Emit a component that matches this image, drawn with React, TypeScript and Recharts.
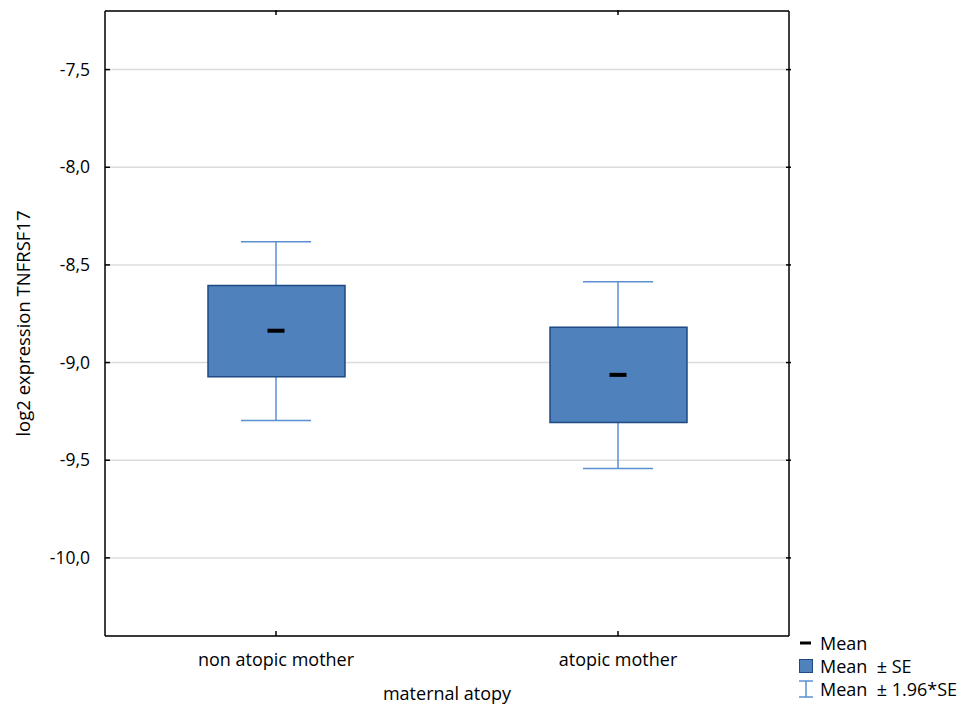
import { ComposedChart, Bar, Scatter, XAxis, YAxis, CartesianGrid, Legend } from 'recharts';

const categories = ['non atopic mother', 'atopic mother'];
const means = [-8.837, -9.063];
const seLow = [-9.073, -9.307];
const seHigh = [-8.606, -8.819];
const ciLow = [-9.296, -9.543];
const ciHigh = [-8.381, -8.586];
const yTicks = [-10, -9.5, -9, -8.5, -8, -7.5];

const data = categories.map((name, i) => ({
  name,
  mean: means[i],
  box: [seLow[i], seHigh[i]],
  ci: [ciLow[i], ciHigh[i]],
}));

const FONT = '"Open Sans", "DejaVu Sans", sans-serif';
const FS = 18;
const BOX_FILL = '#4f81bd';
const BOX_STROKE = '#1f4a84';
const WHISKER = '#5b8fd2';
const fmt = (v: number) => v.toFixed(1).replace('.', ',');

function LeftTick({ x, y, payload }: any) {
  return (
    <g>
      <line x1={x + 15} y1={y} x2={x + 20} y2={y} stroke="#000" strokeWidth={1.5} />
      <text x={x} y={y} dy={6} textAnchor="end" fontSize={17.5} fontFamily={FONT} fill="#000">
        {fmt(payload.value)}
      </text>
    </g>
  );
}

function RightTick({ x, y }: any) {
  return <line x1={x} y1={y} x2={x - 5} y2={y} stroke="#000" strokeWidth={1.5} />;
}

function BottomTick({ x, y, payload }: any) {
  return (
    <g>
      <line x1={x} y1={y} x2={x} y2={y - 5} stroke="#000" strokeWidth={1.5} />
      <text x={x} y={y + 30} textAnchor="middle" fontSize={FS} fontFamily={FONT} fill="#000">
        {payload.value}
      </text>
    </g>
  );
}

function TopTick({ x, y }: any) {
  return <line x1={x} y1={y + 1} x2={x} y2={y + 6} stroke="#000" strokeWidth={1.5} />;
}

function Whisker({ x, y, width, height }: any) {
  const cx = x + width / 2;
  return (
    <g stroke={WHISKER} strokeWidth={1.5}>
      <line x1={cx} y1={y} x2={cx} y2={y + height} />
      <line x1={x} y1={y} x2={x + width} y2={y} />
      <line x1={x} y1={y + height} x2={x + width} y2={y + height} />
    </g>
  );
}

function MeanMark({ cx, cy }: any) {
  return <rect x={cx - 8.5} y={cy - 2} width={17} height={4} fill="#000" />;
}

function LegendBox() {
  const row = { display: 'flex', alignItems: 'center', height: 23 } as const;
  const txt = { fontSize: FS, fontFamily: FONT, color: '#000', marginLeft: 6, whiteSpace: 'nowrap' } as const;
  return (
    <div>
      <div style={row}>
        <svg width={16} height={16}><rect x={2} y={6.5} width={11} height={3} fill="#000" /></svg>
        <span style={txt}>Mean</span>
      </div>
      <div style={row}>
        <svg width={16} height={16}><rect x={1.5} y={1.5} width={13} height={13} fill={BOX_FILL} stroke={BOX_STROKE} /></svg>
        <span style={txt}>Mean &nbsp;± SE</span>
      </div>
      <div style={row}>
        <svg width={16} height={18}>
          <g stroke={WHISKER} strokeWidth={1.5}>
            <line x1={1} y1={1} x2={15} y2={1} />
            <line x1={8} y1={1} x2={8} y2={17} />
            <line x1={1} y1={17} x2={15} y2={17} />
          </g>
        </svg>
        <span style={txt}>Mean &nbsp;± 1.96*SE</span>
      </div>
    </div>
  );
}

export default function App() {
  return (
    <div style={{ position: 'absolute', left: 0, top: 0, background: '#fff' }}>
      <ComposedChart
        width={973}
        height={706}
        data={data}
        margin={{ top: 10, right: 183, bottom: 0, left: 0 }}
      >
        <CartesianGrid vertical={false} stroke="#dcdcdc" strokeWidth={1.5} />
        <XAxis
          dataKey="name"
          height={70}
          axisLine={{ stroke: '#000', strokeWidth: 1.5 }}
          tickLine={false}
          tickSize={0}
          tickMargin={0}
          tick={<BottomTick />}
          interval={0}
          label={({ viewBox }: any) => (
            <text
              x={viewBox.x + viewBox.width / 2}
              y={viewBox.y + 64}
              textAnchor="middle"
              fontSize={FS}
              fontFamily={FONT}
              fill="#000"
            >
              maternal atopy
            </text>
          )}
        />
        <XAxis
          xAxisId="top"
          dataKey="name"
          orientation="top"
          height={1}
          axisLine={{ stroke: '#000', strokeWidth: 1.5 }}
          tickLine={false}
          tickSize={0}
          tick={<TopTick />}
          interval={0}
        />
        <XAxis xAxisId="w" dataKey="name" hide />
        <YAxis
          width={105}
          domain={[-10.4, -7.2]}
          ticks={yTicks}
          allowDataOverflow
          axisLine={{ stroke: '#000', strokeWidth: 1.5 }}
          tickLine={false}
          tickSize={0}
          tickMargin={15}
          tick={<LeftTick />}
          label={({ viewBox }: any) => {
            const lx = 22;
            const ly = viewBox.y + viewBox.height / 2;
            return (
              <text
                x={lx}
                y={ly}
                transform={`rotate(-90 ${lx} ${ly})`}
                textAnchor="middle"
                dominantBaseline="central"
                fontSize={18.5}
                fontFamily={FONT}
                fill="#000"
              >
                log2 expression TNFRSF17
              </text>
            );
          }}
        />
        <YAxis
          yAxisId="r"
          orientation="right"
          width={1}
          domain={[-10.4, -7.2]}
          ticks={yTicks}
          allowDataOverflow
          axisLine={{ stroke: '#000', strokeWidth: 1.5 }}
          tickLine={false}
          tickSize={0}
          tick={<RightTick />}
        />
        <Bar xAxisId="w" dataKey="ci" barSize={70} shape={<Whisker />} isAnimationActive={false} legendType="none" />
        <Bar
          dataKey="box"
          barSize={137}
          fill={BOX_FILL}
          stroke={BOX_STROKE}
          strokeWidth={1.5}
          isAnimationActive={false}
          legendType="none"
        />
        <Scatter dataKey="mean" shape={<MeanMark />} isAnimationActive={false} legendType="none" />
        <Legend
          layout="vertical"
          align="center"
          verticalAlign="middle"
          content={<LegendBox />}
          wrapperStyle={{ left: 798, top: 631, width: 175, height: 72 }}
        />
      </ComposedChart>
    </div>
  );
}
